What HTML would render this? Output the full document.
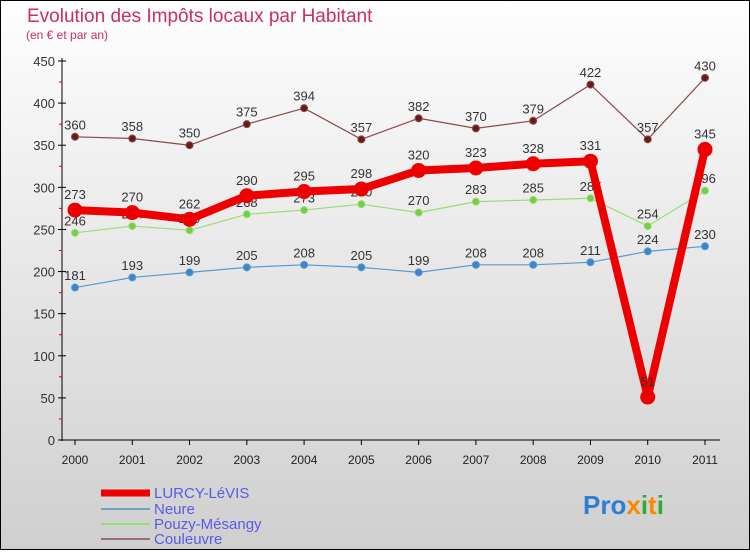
<!DOCTYPE html>
<html><head><meta charset="utf-8"><style>
html,body{margin:0;padding:0}
body{width:750px;height:550px;overflow:hidden;font-family:"Liberation Sans","DejaVu Sans",sans-serif}
</style></head><body>
<svg id="chart" width="750" height="550" xmlns="http://www.w3.org/2000/svg">
<defs><linearGradient id="bg" x1="0" y1="0" x2="0" y2="1"><stop offset="0" stop-color="#fefefe"/><stop offset="1" stop-color="#cfcfcf"/></linearGradient></defs>
<rect x="0" y="0" width="750" height="550" fill="url(#bg)" stroke="#000" stroke-width="2"/>
<text x="27" y="22" font-size="19" fill="#c8305a">Evolution des Impôts locaux par Habitant</text>
<text x="26" y="39" font-size="12" fill="#c8305a">(en € et par an)</text>
<g id="axes"></g>
<g id="series"></g>
<g font-size="15" fill="#5a5ae8">
<line x1="101" y1="493" x2="150" y2="493" stroke="#ee0000" stroke-width="7"/>
<text x="154" y="498">LURCY-LéVIS</text>
<line x1="101" y1="509" x2="150" y2="509" stroke="#6fa0cf" stroke-width="2"/>
<text x="154" y="514">Neure</text>
<line x1="101" y1="524" x2="150" y2="524" stroke="#99dd77" stroke-width="2"/>
<text x="154" y="529">Pouzy-Mésangy</text>
<line x1="101" y1="539" x2="150" y2="539" stroke="#997070" stroke-width="2"/>
<text x="154" y="544">Couleuvre</text>
</g>
<g font-size="26" font-weight="bold">
<text x="583" y="514"><tspan fill="#2a7fd0">Pro</tspan><tspan fill="#ff8800">x</tspan><tspan fill="#33aa33">i</tspan><tspan fill="#ff8800">t</tspan><tspan fill="#33aa33">i</tspan></text>
</g>
</svg>
<script>
const years=["2000","2001","2002","2003","2004","2005","2006","2007","2008","2009","2010","2011"];
const yTicks=[0,50,100,150,200,250,300,350,400,450];
const lurcy=[273,270,262,290,295,298,320,323,328,331,51,345];
const neure=[181,193,199,205,208,205,199,208,208,211,224,230];
const pouzy=[246,254,249,268,273,280,270,283,285,287,254,296];
const couleuvre=[360,358,350,375,394,357,382,370,379,422,357,430];
const NS="http://www.w3.org/2000/svg";
function X(i){return 75+i*(630/11);}
function Y(v){return 440-v*(379/450);}
function mk(tag,attrs,parent){const e=document.createElementNS(NS,tag);for(const k in attrs)e.setAttribute(k,attrs[k]);parent.appendChild(e);return e;}
const axes=document.getElementById('axes');
const ax=mk('line',{x1:62,y1:58,x2:62,y2:441,stroke:'#000','stroke-width':1},axes);


const xl=mk('line',{x1:62,y1:440,x2:720,y2:440,stroke:'#000','stroke-width':1},axes);


yTicks.forEach(v=>{
  const t=mk('line',{x1:58,y1:Y(v),x2:66,y2:Y(v),stroke:'#000'},axes);
  
  
  const l=mk('text',{x:55,y:Y(v)+5,'text-anchor':'end','font-size':13,fill:'#333'},axes);
  l.textContent=v;
  
  
  if(v<450){const m=mk('line',{x1:59,y1:Y(v+25),x2:62,y2:Y(v+25),stroke:'#dd0000'},axes);
  
  }
});
years.forEach((yr,i)=>{
  const t=mk('line',{x1:X(i),y1:440,x2:X(i),y2:445,stroke:'#000'},axes);
  
  
  const l=mk('text',{x:X(i),y:464,'text-anchor':'middle','font-size':12,fill:'#222'},axes);
  l.textContent=yr;
  
  
});
const sg=document.getElementById('series');
function draw(name,data,color,w,r,dot){
  const g=mk('g',{},sg);
  
  
  const p=mk('polyline',{points:data.map((v,i)=>X(i)+','+Y(v)).join(' '),fill:'none',stroke:color,'stroke-width':w,'stroke-linejoin':'round'},g);
  
  
  data.forEach((v,i)=>{
    const c=mk('circle',{cx:X(i),cy:Y(v),r:r,fill:dot,stroke:color,'stroke-width':1},g);
    
    
    const t=mk('text',{x:X(i),y:Y(v)-r-4,'text-anchor':'middle','font-size':13,fill:'#333'},g);
    t.textContent=v;
    
    
  });
}
draw('couleuvre',couleuvre,'#8a4a4a',1.2,3.5,'#6a1a1a');
draw('neure',neure,'#5a9ad0',1.2,3.5,'#3a86cc');
draw('pouzy-mesangy',pouzy,'#99dd77',1.2,3.5,'#77cc44');
draw('lurcy-levis',lurcy,'#ee0000',8,7,'#ee0000');
</script>
</body></html>
